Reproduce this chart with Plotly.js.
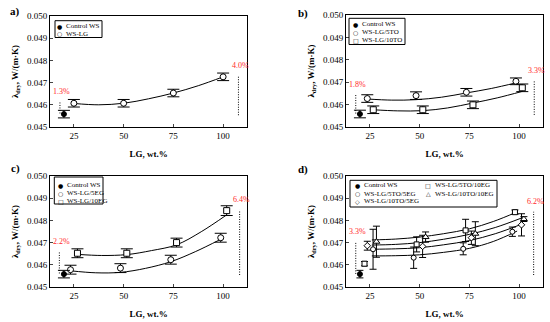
<!DOCTYPE html>
<html><head><meta charset="utf-8">
<script src="https://cdn.plot.ly/plotly-3.0.1.min.js"></script>
<style>html,body{margin:0;padding:0;background:#fff;}#chart{width:550px;height:322px;}</style>
</head><body><div id="chart"></div>
<script>
// ---- Data ----
const xTicks = [25, 50, 75, 100];
const yTicks = [0.045, 0.046, 0.047, 0.048, 0.049, 0.050];
const yTickText = ['0.045', '0.046', '0.047', '0.048', '0.049', '0.050'];

// Control WS (same in every panel)
const ctrlX = [20];
const ctrlY = [0.04558];
const ctrlErr = [0.00017];

// Panel a
const aLgX = [25, 50, 75, 100];
const aLgY = [0.04607, 0.04607, 0.04653, 0.04726];
const aLgErr = [0.00017, 0.00017, 0.00017, 0.00017];
const aFitX = [25, 37.5, 50, 62.5, 75, 87.5, 100];
const aFitY = [0.04606, 0.04600, 0.04607, 0.04627, 0.04653, 0.04686, 0.04726];

// Panel b
const b5toX = [23.7, 48.2, 73.5, 98.4];
const b5toY = [0.04627, 0.04640, 0.04655, 0.04704];
const b5toErr = [0.00017, 0.00017, 0.00017, 0.00015];
const b10toX = [26.7, 51.6, 76.8, 101.6];
const b10toY = [0.04577, 0.04577, 0.04599, 0.04675];
const b10toErr = [0.00017, 0.00017, 0.00017, 0.00017];
const bFit5X = [23.7, 36, 48.2, 61, 73.5, 86, 98.4];
const bFit5Y = [0.04625, 0.04620, 0.04622, 0.04633, 0.04652, 0.04672, 0.04697];
const bFit10X = [26.7, 39, 51.6, 64, 76.8, 89, 101.6];
const bFit10Y = [0.04577, 0.04572, 0.04573, 0.04585, 0.04607, 0.04630, 0.04659];

// Panel c
const c5egX = [23.3, 48.4, 73.7, 98.8];
const c5egY = [0.04578, 0.04585, 0.04623, 0.04722];
const c5egErr = [0.0002, 0.0002, 0.0002, 0.0002];
const c10egX = [26.8, 51.6, 76.6, 101.8];
const c10egY = [0.04652, 0.04652, 0.04700, 0.04844];
const c10egErr = [0.0002, 0.0002, 0.0002, 0.00022];
const cFit5X = [23.3, 36, 48.4, 61, 73.7, 86, 98.8];
const cFit5Y = [0.04573, 0.04564, 0.04566, 0.04584, 0.04614, 0.04659, 0.04715];
const cFit10X = [26.8, 39, 51.6, 64, 76.6, 89, 101.8];
const cFit10Y = [0.04647, 0.04642, 0.04646, 0.04664, 0.04690, 0.04749, 0.04825];

// Panel d
const dSqX = [22.3, 48.5, 73.1, 97.9];            // WS-LG/5TO/10EG
const dSqY = [0.04605, 0.04692, 0.04755, 0.04837];
const dSqErr = [0.0001, 0.00034, 0.0005, 0.0001];
const dCiX = [26.6, 47.0, 71.9, 96.6];            // WS-LG/5TO/5EG
const dCiY = [0.04670, 0.04632, 0.04672, 0.04749];
const dCiErr = [0.0009, 0.00048, 0.00027, 0.00021];
const dDiX = [23.7, 51.5, 76.0, 101.2];           // WS-LG/10TO/5EG
const dDiY = [0.04686, 0.04683, 0.04722, 0.04780];
const dDiErr = [0.0002, 0.0005, 0.0003, 0.0005];
const dTrX = [28.3, 53.0, 78.0, 102.4];           // WS-LG/10TO/10EG
const dTrY = [0.04704, 0.04725, 0.04740, 0.04806];
const dTrErr = [0.0007, 0.00023, 0.00054, 0.00011];
const dFit1X = [26, 38, 50, 62, 75, 87, 99];
const dFit1Y = [0.04712, 0.04716, 0.04725, 0.04740, 0.04762, 0.04795, 0.04838];
const dFit2X = [26, 38, 50, 62, 75, 88, 101];
const dFit2Y = [0.04689, 0.04692, 0.04700, 0.04715, 0.04737, 0.04768, 0.04810];
const dFit3X = [26, 38, 50, 62, 75, 88, 101];
const dFit3Y = [0.04670, 0.04672, 0.04677, 0.04690, 0.04709, 0.04740, 0.04782];
const dFit4X = [26, 38, 50, 62, 75, 87, 99];
const dFit4Y = [0.04640, 0.04641, 0.04645, 0.04656, 0.04674, 0.04705, 0.04752];

// Increase brackets: [x, yLow, yHigh, label]
const incA = [[18, 0.04561, 0.04613, '1.3%'], [107.7, 0.04553, 0.04729, '4.0%']];
const incB = [[17.9, 0.04560, 0.04643, '1.8%'], [107.6, 0.04554, 0.04707, '3.3%']];
const incC = [[17.7, 0.04561, 0.04659, '2.2%'], [108.3, 0.04554, 0.04847, '6.4%']];
const incD = [[17.9, 0.04559, 0.04704, '3.3%'], [107.3, 0.04554, 0.04839, '6.2%']];

// Legend labels
const legA = ['Control WS', 'WS-LG'];
const legB = ['Control WS', 'WS-LG/5TO', 'WS-LG/10TO'];
const legC = ['Control WS', 'WS-LG/5EG', 'WS-LG/10EG'];
const legD = ['Control WS', 'WS-LG/5TO/5EG', 'WS-LG/10TO/5EG', 'WS-LG/5TO/10EG', 'WS-LG/10TO/10EG'];
const panelLetters = ['a)', 'b)', 'c)', 'd)'];
const xTitle = '<b>LG, wt.%</b>';
const yTitle = '<b>λ<sub>dry</sub>, W/(m·K)</b>';

// ---- Layout helpers ----
const W = 550, H = 322;
const px = v => v / W;
const py = v => 1 - v / H;
const SERIF = 'Liberation Serif, Times New Roman, serif';

const traces = [];
function fit(x, y, ax) {
  traces.push({x: x, y: y, xaxis: 'x' + ax, yaxis: 'y' + ax, mode: 'lines',
    line: {color: '#000', width: 1, shape: 'spline', smoothing: 1}, hoverinfo: 'skip', showlegend: false});
}
function pts(x, y, e, ax, sym, filled, cap, size) {
  traces.push({x: x, y: y, xaxis: 'x' + ax, yaxis: 'y' + ax, mode: 'markers',
    marker: {symbol: sym, size: size || 6, color: filled ? '#000' : '#fff', line: {color: '#000', width: 1}},
    error_y: {type: 'data', array: e, visible: true, color: '#000', thickness: 1, width: cap},
    showlegend: false});
}

fit(aFitX, aFitY, '');
pts(aLgX, aLgY, aLgErr, '', 'circle', false, 6);
pts(ctrlX, ctrlY, ctrlErr, '', 'circle', true, 6, 5);

fit(bFit5X, bFit5Y, '2'); fit(bFit10X, bFit10Y, '2');
pts(b5toX, b5toY, b5toErr, '2', 'circle', false, 6);
pts(b10toX, b10toY, b10toErr, '2', 'square', false, 6);
pts(ctrlX, ctrlY, ctrlErr, '2', 'circle', true, 6, 5);

fit(cFit5X, cFit5Y, '3'); fit(cFit10X, cFit10Y, '3');
pts(c5egX, c5egY, c5egErr, '3', 'circle', false, 6);
pts(c10egX, c10egY, c10egErr, '3', 'square', false, 6);
pts(ctrlX, ctrlY, ctrlErr, '3', 'circle', true, 6, 5);

fit(dFit1X, dFit1Y, '4'); fit(dFit2X, dFit2Y, '4'); fit(dFit3X, dFit3Y, '4'); fit(dFit4X, dFit4Y, '4');
pts(dCiX, dCiY, dCiErr, '4', 'circle', false, 3.5, 5);
pts(dDiX, dDiY, dDiErr, '4', 'diamond', false, 3.5, 5);
pts(dSqX, dSqY, dSqErr, '4', 'square', false, 3.5, 5);
pts(dTrX, dTrY, dTrErr, '4', 'triangle-up', false, 3.5, 6);
pts(ctrlX, ctrlY, ctrlErr, '4', 'circle', true, 3.5, 5);

// panel pixel boxes [left, right, top, bottom]
const boxes = [[50, 247, 16, 127], [346, 543, 15, 127], [50, 247, 176, 287], [346, 543, 176, 287]];

function xa(b) {
  return {domain: [px(b[0]), px(b[1])], range: [13, 112], tickvals: xTicks, ticks: 'inside', ticklen: 3,
    showline: true, linecolor: '#000', linewidth: 1, mirror: true, showgrid: false, zeroline: false,
    tickfont: {family: SERIF, size: 9, color: '#000'},
    title: {text: xTitle, font: {family: SERIF, size: 9, color: '#000'}, standoff: 10}};
}
function ya(b) {
  return {domain: [py(b[3]), py(b[2])], range: [0.045, 0.050], tickvals: yTicks, ticktext: yTickText,
    ticks: 'inside', ticklen: 3, showline: true, linecolor: '#000', linewidth: 1, mirror: true,
    showgrid: false, zeroline: false, tickfont: {family: SERIF, size: 9, color: '#000'},
    title: {text: yTitle, font: {family: SERIF, size: 9, color: '#000'}, standoff: 6}};
}

const annotations = [];
const shapes = [];

function brackets(inc, ax) {
  inc.forEach(r => {
    shapes.push({type: 'line', xref: 'x' + ax, yref: 'y' + ax, x0: r[0], x1: r[0], y0: r[1], y1: r[2],
      line: {color: '#000', width: 1, dash: '1px,1.5px'}});
    annotations.push({xref: 'x' + ax, yref: 'y' + ax, x: r[0] + 1, y: r[2], text: r[3], showarrow: false,
      yanchor: 'bottom', yshift: 4, font: {family: SERIF, size: 8, color: '#ff2a2a'}});
  });
}
brackets(incA, ''); brackets(incB, '2'); brackets(incC, '3'); brackets(incD, '4');

// panel letters
[[15, 12], [303, 13], [15, 168], [303, 169]].forEach((p, i) => {
  annotations.push({xref: 'paper', yref: 'paper', x: px(p[0]), y: py(p[1]), text: '<b>' + panelLetters[i] + '</b>',
    showarrow: false, xanchor: 'center', yanchor: 'middle', font: {family: SERIF, size: 11, color: '#000'}});
});

// legends (box + symbol + label)
function legBox(l, t, r, b) {
  shapes.push({type: 'rect', xref: 'paper', yref: 'paper', x0: px(l), x1: px(r), y0: py(b), y1: py(t),
    line: {color: '#000', width: 1}, fillcolor: 'rgba(0,0,0,0)'});
}
function legItem(symX, txtX, y, sym, label) {
  annotations.push({xref: 'paper', yref: 'paper', x: px(symX), y: py(y), text: sym, showarrow: false,
    xanchor: 'center', yanchor: 'middle', font: {family: 'DejaVu Sans', size: 6, color: '#000'}});
  annotations.push({xref: 'paper', yref: 'paper', x: px(txtX), y: py(y), text: label, showarrow: false,
    xanchor: 'left', yanchor: 'middle', font: {family: SERIF, size: 7, color: '#000'}});
}
legBox(55, 20.7, 102, 37.5);
legItem(59, 63.5, 26, '●', legA[0]);
legItem(59, 63.5, 33.5, '○', legA[1]);

legBox(349, 18.3, 405, 44.5);
legItem(355.5, 360, 24.3, '●', legB[0]);
legItem(355.5, 360, 32.5, '○', legB[1]);
legItem(355.5, 360, 40.5, '□', legB[2]);

legBox(54.3, 177, 103, 204);
legItem(60.5, 65, 185, '●', legC[0]);
legItem(60.5, 65, 193, '○', legC[1]);
legItem(60.5, 65, 201.3, '□', legC[2]);

legBox(350, 180.3, 497, 207);
legItem(357.5, 362, 185.3, '●', legD[0]);
legItem(357.5, 362, 193.5, '○', legD[1]);
legItem(357.5, 362, 201.3, '◇', legD[2]);
legItem(428, 433, 185.3, '□', legD[3]);
legItem(428, 433, 193.5, '△', legD[4]);

const layout = {
  width: W, height: H, margin: {l: 0, r: 0, t: 0, b: 0}, paper_bgcolor: '#fff', plot_bgcolor: '#fff',
  showlegend: false, font: {family: SERIF, color: '#000'},
  xaxis: Object.assign(xa(boxes[0]), {anchor: 'y'}), yaxis: Object.assign(ya(boxes[0]), {anchor: 'x'}),
  xaxis2: Object.assign(xa(boxes[1]), {anchor: 'y2'}), yaxis2: Object.assign(ya(boxes[1]), {anchor: 'x2'}),
  xaxis3: Object.assign(xa(boxes[2]), {anchor: 'y3'}), yaxis3: Object.assign(ya(boxes[2]), {anchor: 'x3'}),
  xaxis4: Object.assign(xa(boxes[3]), {anchor: 'y4'}), yaxis4: Object.assign(ya(boxes[3]), {anchor: 'x4'}),
  annotations: annotations, shapes: shapes
};

Plotly.newPlot('chart', traces, layout, {staticPlot: true, displayModeBar: false});
</script></body></html>
